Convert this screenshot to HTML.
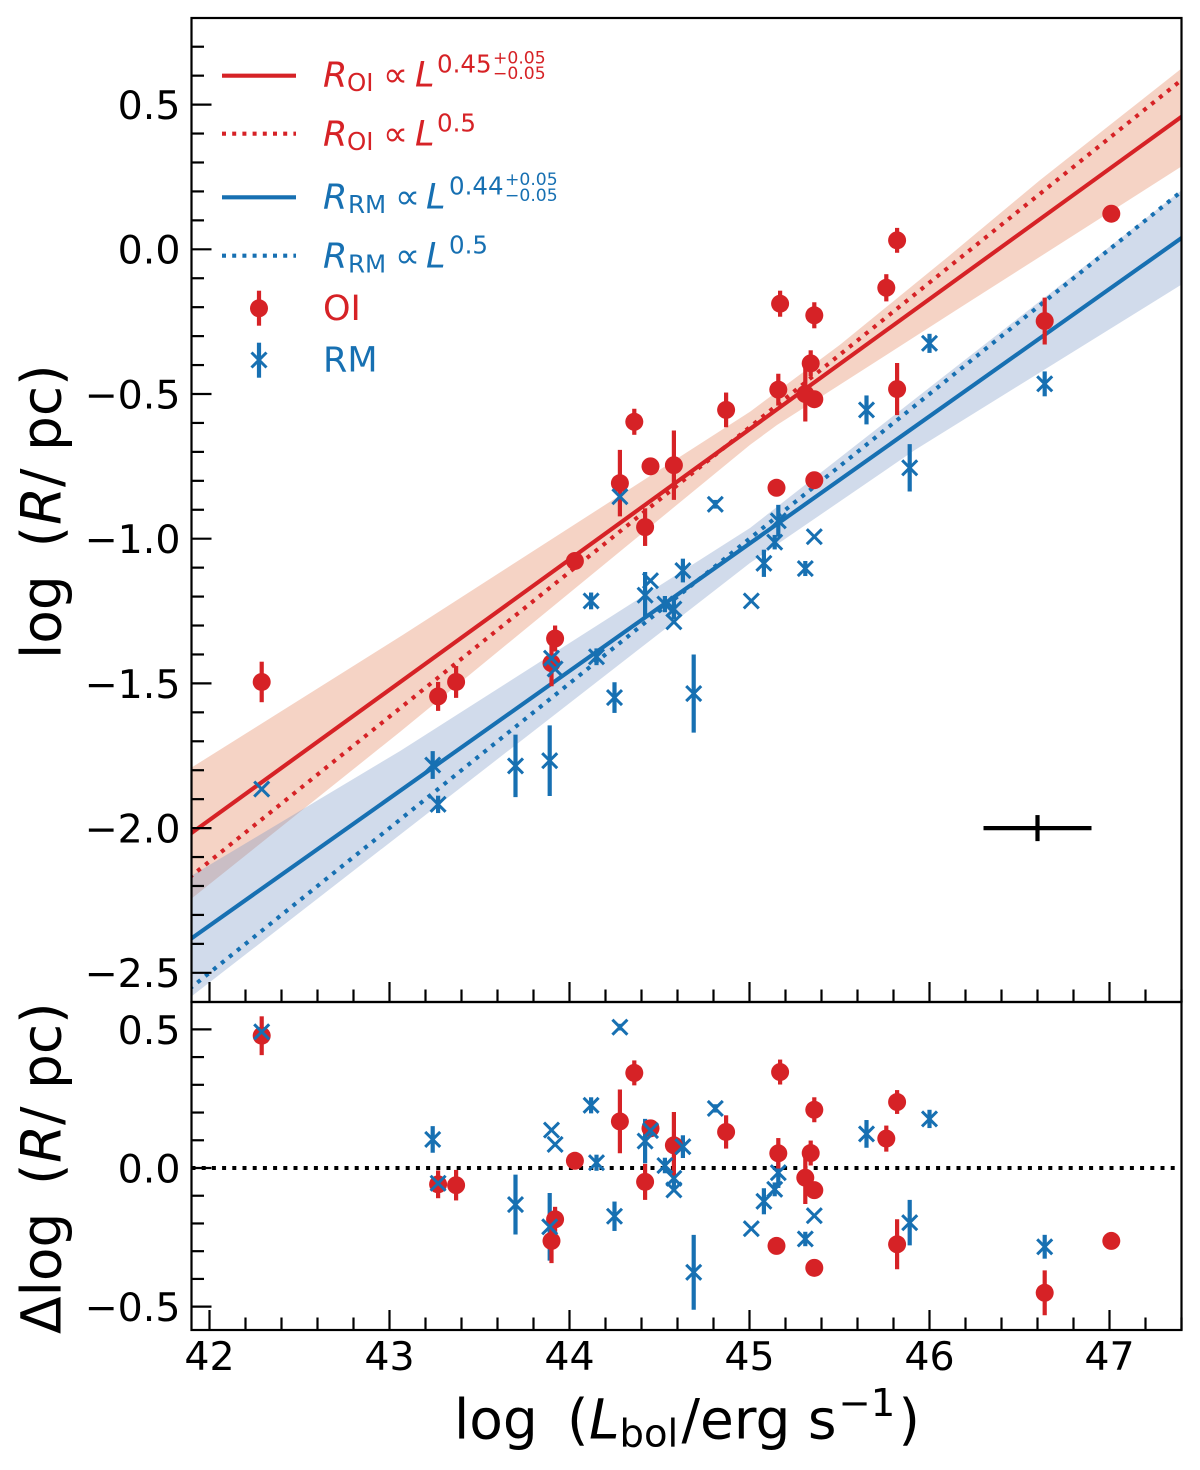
<!DOCTYPE html>
<html lang="en">
<head>
<meta charset="utf-8">
<title>Radius-luminosity relation</title>
<style>
html,body{margin:0;padding:0;background:#fff;}
svg{display:block;}
text{font-family:"DejaVu Sans","Liberation Sans",sans-serif;}
.it{font-style:italic;}
.tick{fill:#000;font-size:39.5px;}
.lab{fill:#000;font-size:55px;}
.sub{font-size:38.5px;}
.red{fill:#d62226;}
.blue{fill:#1770b2;}
.lg{font-size:35px;}
.ls{font-size:24.5px;}
.lx{font-size:17.2px;}
</style>
</head>
<body>
<svg id="fig" xmlns="http://www.w3.org/2000/svg" width="1200" height="1470" viewBox="0 0 1200 1470">
  <defs>
    <clipPath id="clipU"><rect x="191.5" y="18" width="990" height="984"/></clipPath>
    <clipPath id="clipL"><rect x="191.5" y="1002" width="990" height="328"/></clipPath>
  </defs>
  <g id="upperData" clip-path="url(#clipU)"></g>
  <g id="lowerData" clip-path="url(#clipL)"></g>
  <g id="axes"></g>

  <g>
    <line x1="222" x2="296" y1="75.7" y2="75.7" stroke="#d62226" stroke-width="4.1"/>
    <g class="red">
      <text class="lg it" x="323" y="86.7">R</text><text class="ls" x="347" y="91">OI</text><text class="lg" x="383" y="86.7">∝</text><text class="lg it" x="415" y="86.7">L</text><text class="ls" x="437" y="72.3">0.45</text><text class="lx" x="493" y="63.3">+0.05</text><text class="lx" x="493" y="79">−0.05</text>
    </g>
    <line x1="222" x2="296" y1="133.7" y2="133.7" stroke="#d62226" stroke-width="4.1" stroke-dasharray="4 6.2"/>
    <g class="red">
      <text class="lg it" x="323" y="145.7">R</text><text class="ls" x="347" y="150">OI</text><text class="lg" x="383" y="145.7">∝</text><text class="lg it" x="415" y="145.7">L</text><text class="ls" x="437" y="131.7">0.5</text>
    </g>
    <line x1="222" x2="296" y1="197.3" y2="197.3" stroke="#1770b2" stroke-width="4.1"/>
    <g class="blue">
      <text class="lg it" x="323" y="208.3">R</text><text class="ls" x="348" y="213">RM</text><text class="lg" x="395" y="208.3">∝</text><text class="lg it" x="426" y="208.3">L</text><text class="ls" x="449" y="194.3">0.44</text><text class="lx" x="505" y="185">+0.05</text><text class="lx" x="505" y="201">−0.05</text>
    </g>
    <line x1="222" x2="296" y1="255.7" y2="255.7" stroke="#1770b2" stroke-width="4.1" stroke-dasharray="4 6.2"/>
    <g class="blue">
      <text class="lg it" x="323" y="267.3">R</text><text class="ls" x="348" y="272.3">RM</text><text class="lg" x="395" y="267.3">∝</text><text class="lg it" x="426" y="267.3">L</text><text class="ls" x="449" y="253.3">0.5</text>
    </g>
    <g>
      <line x1="259" x2="259" y1="290.7" y2="325.7" stroke="#d62226" stroke-width="4.2"/>
      <circle cx="259" cy="308.3" r="9" fill="#d62226"/>
    </g>
    <text class="lg red" x="323" y="320">OI</text>
    <g stroke="#1770b2" fill="none">
      <line x1="259" x2="259" y1="342.7" y2="377.7" stroke-width="4.2"/>
      <path d="M251.5 352.5L266.5 367.5M251.5 367.5L266.5 352.5" stroke-width="3"/>
    </g>
    <text class="lg blue" x="323" y="371.7">RM</text>
  </g>

  <g>
    <text class="lab" x="454" y="1438.3">log</text>
    <text class="lab" x="567" y="1438.3">(</text>
    <text class="lab it" x="589" y="1438.3">L</text>
    <text class="lab sub" x="619.5" y="1446.7">bol</text>
    <text class="lab" x="681.5" y="1438.3">/erg s</text>
    <text class="lab sub" x="838.5" y="1416">−1</text>
    <text class="lab" x="898.5" y="1438.3">)</text>
  </g>
  <g>
    <text class="lab" transform="translate(60.7 659) rotate(-90)">log</text>
    <text class="lab" transform="translate(60.7 547.4) rotate(-90)">(</text>
    <text class="lab it" transform="translate(60.7 525) rotate(-90)">R</text>
    <text class="lab" transform="translate(60.7 487) rotate(-90)">/ pc)</text>
  </g>
  <g>
    <text class="lab" transform="translate(60.7 1334) rotate(-90)">Δlog</text>
    <text class="lab" transform="translate(60.7 1185) rotate(-90)">(</text>
    <text class="lab it" transform="translate(60.7 1163) rotate(-90)">R</text>
    <text class="lab" transform="translate(60.7 1125) rotate(-90)">/ pc)</text>
  </g>
</svg>
<script>
// ---- data ----
const oiLogL = [42.29,43.27,43.37,43.90,43.92,44.03,44.28,44.36,44.42,44.45,44.58,44.87,45.15,45.16,45.17,45.31,45.34,45.36,45.36,45.36,45.76,45.82,45.82,46.64,47.01];
const oiLogR = [-1.495,-1.545,-1.495,-1.43,-1.345,-1.077,-0.808,-0.596,-0.96,-0.75,-0.746,-0.555,-0.824,-0.485,-0.188,-0.5,-0.394,-0.518,-0.798,-0.228,-0.133,-0.483,0.031,-0.248,0.123];
const oiErr = [0.07,0.05,0.055,0.08,0.045,0,0.115,0.045,0.065,0,0.12,0.06,0,0.055,0.045,0.095,0.045,0,0,0.045,0.047,0.09,0.043,0.081,0];
const oiResidual = [0.477,-0.059,-0.062,-0.263,-0.185,0.026,0.168,0.343,-0.05,0.143,0.082,0.13,-0.281,0.053,0.346,-0.035,0.054,-0.08,-0.36,0.21,0.106,-0.275,0.238,-0.45,-0.263];

const rmLogL = [42.29,43.24,43.27,43.70,43.89,43.90,43.92,44.12,44.15,44.25,44.28,44.42,44.45,44.53,44.58,44.58,44.63,44.69,44.81,45.01,45.08,45.14,45.16,45.31,45.36,45.65,45.89,46.00,46.64];
const rmLogR = [-1.865,-1.782,-1.918,-1.785,-1.767,-1.413,-1.45,-1.215,-1.408,-1.549,-0.855,-1.195,-1.145,-1.226,-1.243,-1.287,-1.11,-1.535,-0.881,-1.215,-1.085,-1.012,-0.938,-1.103,-0.993,-0.555,-0.755,-0.325,-0.465];
const rmErr = [0,0.048,0.03,0.108,0.122,0,0,0.029,0.029,0.053,0.012,0.08,0,0.028,0.035,0,0.041,0.135,0.015,0,0.047,0.025,0.055,0.026,0,0.05,0.082,0.033,0.043];
const rmResidual = [0.491,0.103,-0.055,-0.132,-0.212,0.137,0.085,0.226,0.019,-0.174,0.508,0.097,0.135,0.009,-0.037,-0.079,0.077,-0.376,0.215,-0.219,-0.12,-0.077,-0.017,-0.256,-0.172,0.123,-0.197,0.177,-0.284];

// confidence bands: log L knots and log R edge values
const oiBandUpperL = [41.897,43.058,45.003,45.503,46.114,46.614,47.403];
const oiBandUpperR = [-1.792,-1.339,-0.561,-0.33,-0.02,0.239,0.626];
const oiBandLowerL = [41.897,43.058,45.003,45.153,46.169,47.397];
const oiBandLowerR = [-2.245,-1.668,-0.676,-0.607,-0.202,0.285];
const rmBandUpperL = [41.897,43.058,45.003,47.403];
const rmBandUpperR = [-2.166,-1.734,-0.963,0.205];
const rmBandLowerL = [41.897,43.558,45.003,45.92,47.397];
const rmBandLowerR = [-2.583,-1.782,-1.084,-0.693,-0.123];

// fits: slope and log R at log L = 47.4
const oiFit = [0.45, 0.458];
const oiHalf = [0.5, 0.585];
const rmFit = [0.44, 0.039];
const rmHalf = [0.5, 0.2];
const fitRange = [41.8, 47.5];

// typical error cross: log L, log R, x err, y err
const typicalError = [46.6, -2.0, 0.3, 0.045];

// ticks
const xTicks = [42,43,44,45,46,47];
const xMinorTicks = [42.2,42.4,42.6,42.8,43.2,43.4,43.6,43.8,44.2,44.4,44.6,44.8,45.2,45.4,45.6,45.8,46.2,46.4,46.6,46.8,47.2,47.4];
const yTicks = [-2.5,-2.0,-1.5,-1.0,-0.5,0.0,0.5];
const yMinorTicks = [-2.4,-2.3,-2.2,-2.1,-1.9,-1.8,-1.7,-1.6,-1.4,-1.3,-1.2,-1.1,-0.9,-0.8,-0.7,-0.6,-0.4,-0.3,-0.2,-0.1,0.1,0.2,0.3,0.4,0.6,0.7];
const resTicks = [-0.5,0.0,0.5];
const resMinorTicks = [-0.4,-0.3,-0.2,-0.1,0.1,0.2,0.3,0.4];

// ---- axis functions ----
const X = v => 209.5 + 180 * (v - 42);
const YU = v => 249.3 - 289.4 * v;
const YL = v => 1168 - 277.3 * v;
const RED = '#d62226';
const BLUE = '#1770b2';
const NS = 'http://www.w3.org/2000/svg';

function make(tag, props) {
  const n = document.createElementNS(NS, tag);
  for (const k in props) n.setAttribute(k, props[k]);
  return n;
}
const upper = document.getElementById('upperData');
const lower = document.getElementById('lowerData');
const axes = document.getElementById('axes');

// bands
function band(parent, name, upL, upR, loL, loR, fill, Y) {
  const pts = [];
  upL.forEach((x, i) => pts.push(X(x).toFixed(1) + ',' + Y(upR[i]).toFixed(1)));
  for (let i = loL.length - 1; i >= 0; i--) pts.push(X(loL[i]).toFixed(1) + ',' + Y(loR[i]).toFixed(1));
  const el = make('polygon', {points: pts.join(' '), fill: fill, 'fill-opacity': 0.35});
  
  
  parent.appendChild(el);
}
band(upper, 'oi-confidence-band', oiBandUpperL, oiBandUpperR, oiBandLowerL, oiBandLowerR, '#e28159', YU);
band(upper, 'rm-confidence-band', rmBandUpperL, rmBandUpperR, rmBandLowerL, rmBandLowerR, '#7c98c6', YU);

// fit lines
function fitLine(name, fit, color, dotted) {
  const f = x => fit[1] + fit[0] * (x - 47.4);
  const el = make('line', {x1: X(fitRange[0]), y1: YU(f(fitRange[0])), x2: X(fitRange[1]), y2: YU(f(fitRange[1])), stroke: color, 'stroke-width': 4.1});
  if (dotted) el.setAttribute('stroke-dasharray', '4 6.2');
  
  
  upper.appendChild(el);
}
fitLine('oi-fit-line', oiFit, RED, false);
fitLine('oi-half-slope-line', oiHalf, RED, true);
fitLine('rm-fit-line', rmFit, BLUE, false);
fitLine('rm-half-slope-line', rmHalf, BLUE, true);

// points
function bars(parent, name, xs, ys, errs, Y, color) {
  xs.forEach((x, i) => {
    if (!errs[i]) return;
    const el = make('line', {x1: X(x), x2: X(x), y1: Y(ys[i] + errs[i]), y2: Y(ys[i] - errs[i]), stroke: color, 'stroke-width': 4.2});
    
    
    parent.appendChild(el);
  });
}
function dots(parent, name, xs, ys, Y) {
  xs.forEach((x, i) => {
    const el = make('circle', {cx: X(x), cy: Y(ys[i]), r: 9, fill: RED});
    
    
    parent.appendChild(el);
  });
}
function crosses(parent, name, xs, ys, Y) {
  const s = 7.5;
  xs.forEach((x, i) => {
    const px = X(x), py = Y(ys[i]);
    const d = 'M' + (px - s) + ' ' + (py - s) + 'L' + (px + s) + ' ' + (py + s) + 'M' + (px - s) + ' ' + (py + s) + 'L' + (px + s) + ' ' + (py - s);
    const el = make('path', {d: d, stroke: BLUE, 'stroke-width': 3, fill: 'none'});
    
    
    parent.appendChild(el);
  });
}
bars(upper, 'rm-error-bar', rmLogL, rmLogR, rmErr, YU, BLUE);
bars(upper, 'oi-error-bar', oiLogL, oiLogR, oiErr, YU, RED);
dots(upper, 'oi-point', oiLogL, oiLogR, YU);
crosses(upper, 'rm-point', rmLogL, rmLogR, YU);

// typical error cross
const crossH = make('line', {x1: X(typicalError[0] - typicalError[2]), x2: X(typicalError[0] + typicalError[2]), y1: YU(typicalError[1]), y2: YU(typicalError[1]), stroke: '#000', 'stroke-width': 4.2});


upper.appendChild(crossH);
const crossV = make('line', {x1: X(typicalError[0]), x2: X(typicalError[0]), y1: YU(typicalError[1] + typicalError[3]), y2: YU(typicalError[1] - typicalError[3]), stroke: '#000', 'stroke-width': 4.2});


upper.appendChild(crossV);

// residual panel
const zeroLine = make('line', {x1: 191.5, x2: 1182, y1: YL(0), y2: YL(0), stroke: '#000', 'stroke-width': 4.1, 'stroke-dasharray': '4 6.2'});


lower.appendChild(zeroLine);
bars(lower, 'rm-residual-error-bar', rmLogL, rmResidual, rmErr, YL, BLUE);
bars(lower, 'oi-residual-error-bar', oiLogL, oiResidual, oiErr, YL, RED);
dots(lower, 'oi-residual-point', oiLogL, oiResidual, YL);
crosses(lower, 'rm-residual-point', rmLogL, rmResidual, YL);

// ticks and labels
const MAJOR = 20, MINOR = 12.5, LEFT = 191.5, RIGHT = 1181.5, TOP = 18, MID = 1002, BOTTOM = 1330;
function tickLine(name, x1, y1, x2, y2) {
  const el = make('line', {x1: x1, y1: y1, x2: x2, y2: y2, stroke: '#000', 'stroke-width': 2.2});
  
  
  axes.appendChild(el);
}
function fmt(v) {
  const s = Math.abs(v).toFixed(1);
  return (v < 0 ? '\u2212' : '') + s;
}
[MID, BOTTOM].forEach(base => {
  xTicks.forEach(v => tickLine('x-major-tick', X(v), base, X(v), base - MAJOR));
  xMinorTicks.forEach(v => tickLine('x-minor-tick', X(v), base, X(v), base - MINOR));
});
yTicks.forEach(v => tickLine('y-major-tick', LEFT, YU(v), LEFT + MAJOR, YU(v)));
yMinorTicks.forEach(v => tickLine('y-minor-tick', LEFT, YU(v), LEFT + MINOR, YU(v)));
resTicks.forEach(v => tickLine('residual-y-major-tick', LEFT, YL(v), LEFT + MAJOR, YL(v)));
resMinorTicks.forEach(v => tickLine('residual-y-minor-tick', LEFT, YL(v), LEFT + MINOR, YL(v)));

function label(name, str, x, y, anchor) {
  const el = make('text', {x: x, y: y, 'text-anchor': anchor, class: 'tick'});
  el.textContent = str;
  
  
  axes.appendChild(el);
}
xTicks.forEach(v => label('x-tick-label', String(v), X(v), 1370, 'middle'));
yTicks.forEach(v => label('y-tick-label', fmt(v), 180.5, YU(v) + 14.4, 'end'));
resTicks.forEach(v => label('residual-y-tick-label', fmt(v), 180.5, YL(v) + 14.4, 'end'));

// spines
const upperFrame = make('rect', {x: LEFT, y: TOP, width: RIGHT - LEFT, height: MID - TOP, fill: 'none', stroke: '#000', 'stroke-width': 2.2});


axes.appendChild(upperFrame);
const lowerFrame = make('rect', {x: LEFT, y: MID, width: RIGHT - LEFT, height: BOTTOM - MID, fill: 'none', stroke: '#000', 'stroke-width': 2.2});


axes.appendChild(lowerFrame);
</script>
</body>
</html>
